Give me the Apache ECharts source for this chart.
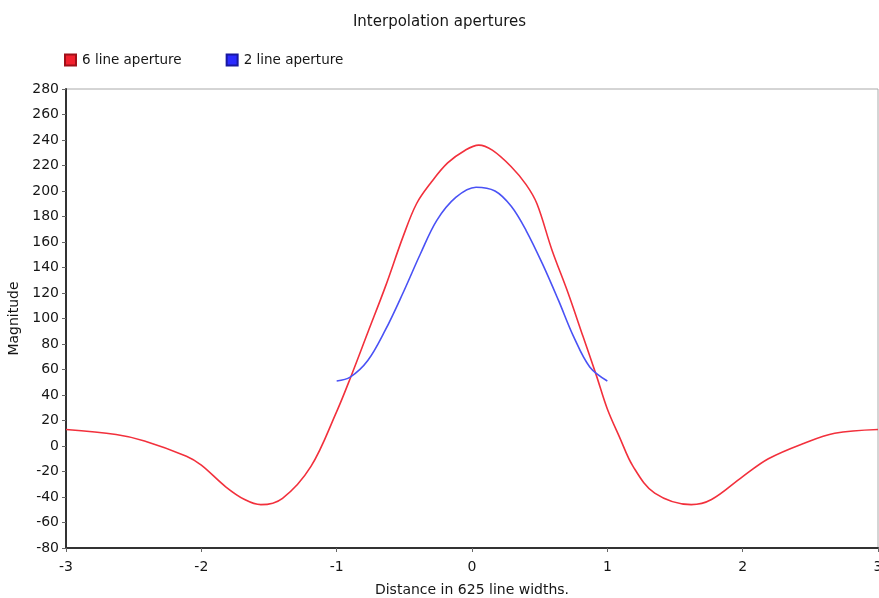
<!DOCTYPE html>
<html>
<head>
<meta charset="utf-8">
<title>Interpolation apertures</title>
<script src="https://cdn.jsdelivr.net/npm/echarts@6/dist/echarts.min.js"></script>
<style>
  html, body { margin: 0; padding: 0; background: #fff; }
  #chart { width: 879px; height: 598px; }
</style>
</head>
<body>
<div id="chart"></div>
<script>
// values
const sixLineX = [-3, -2.63, -2.42, -2.11, -2, -1.82, -1.68, -1.56, -1.4, -1.19, -1.0, -0.9, -0.77, -0.64, -0.51, -0.41, -0.3, -0.18, -0.05, 0.05, 0.15, 0.29, 0.4, 0.48, 0.59, 0.71, 0.82, 0.92, 1.0, 1.09, 1.19, 1.35, 1.62, 1.77, 2.0, 2.19, 2.45, 2.68, 3];
const sixLineY = [13, 9, 4, -8, -15, -32, -42, -46, -41, -16, 27, 53, 89, 125, 164, 190, 207, 222, 232, 236, 232, 219, 205, 190, 154, 120, 86, 55, 29, 7, -16, -37, -46, -42, -24, -10, 2, 10, 13];

const twoLineX = [-1.0, -0.9, -0.77, -0.64, -0.51, -0.38, -0.26, -0.12, 0.03, 0.17, 0.29, 0.4, 0.52, 0.64, 0.75, 0.87, 1.0];
const twoLineY = [51, 54, 67, 91, 120, 151, 177, 195, 203, 200, 188, 169, 143, 114, 86, 62, 51];

const seriesNames = ['6 line aperture', '2 line aperture'];

const pairs = (xs, ys) => xs.map((x, i) => [x, ys[i]]);

const font = 'DejaVu Sans, Verdana, sans-serif';
const ink = '#161616';

const chart = echarts.init(document.getElementById('chart'));

chart.setOption({
  animation: false,
  title: {
    text: 'Interpolation apertures',
    left: 'center',
    top: 10,
    textStyle: { fontFamily: font, fontSize: 15, fontWeight: 'normal', color: ink }
  },
  legend: {
    left: 64,
    top: 53,
    padding: 0,
    icon: 'rect',
    itemWidth: 11,
    itemHeight: 11,
    itemGap: 44,
    textStyle: { fontFamily: font, fontSize: 13.5, color: ink, padding: [0, 0, 0, 1] },
    data: seriesNames
  },
  grid: {
    left: 66,
    right: 1,
    top: 89,
    bottom: 50,
    show: true,
    borderColor: '#aaa',
    borderWidth: 1,
    outerBoundsMode: 'none',
    containLabel: false
  },
  xAxis: {
    type: 'value',
    min: -3,
    max: 3,
    interval: 1,
    name: 'Distance in 625 line widths.',
    nameLocation: 'middle',
    nameGap: 35,
    nameTextStyle: { fontFamily: font, fontSize: 14, color: ink },
    axisLine: { onZero: false, lineStyle: { color: '#333', width: 2 } },
    axisTick: { show: true, length: 4, lineStyle: { color: '#666' } },
    axisLabel: { fontFamily: font, fontSize: 14, color: ink, margin: 12 },
    splitLine: { show: false }
  },
  yAxis: {
    type: 'value',
    min: -80,
    max: 280,
    interval: 20,
    name: 'Magnitude',
    nameLocation: 'middle',
    nameGap: 39,
    nameRotate: 90,
    nameTextStyle: { fontFamily: font, fontSize: 14, color: ink },
    axisLine: { show: true, onZero: false, lineStyle: { color: '#333', width: 2 } },
    axisTick: { show: true, length: 4, lineStyle: { color: '#666' } },
    axisLabel: { fontFamily: font, fontSize: 14, color: ink, margin: 7 },
    splitLine: { show: false }
  },
  series: [
    {
      name: seriesNames[0],
      type: 'line',
      smooth: 0.35,
      showSymbol: false,
      data: pairs(sixLineX, sixLineY),
      itemStyle: { color: '#f2202e', borderColor: '#a01018', borderWidth: 0.5 },
      lineStyle: { color: '#f2303c', width: 1.6 }
    },
    {
      name: seriesNames[1],
      type: 'line',
      smooth: 0.35,
      showSymbol: false,
      data: pairs(twoLineX, twoLineY),
      itemStyle: { color: '#2a2aff', borderColor: '#1818a0', borderWidth: 0.5 },
      lineStyle: { color: '#4a52f5', width: 1.6 }
    }
  ]
});
</script>
</body>
</html>
